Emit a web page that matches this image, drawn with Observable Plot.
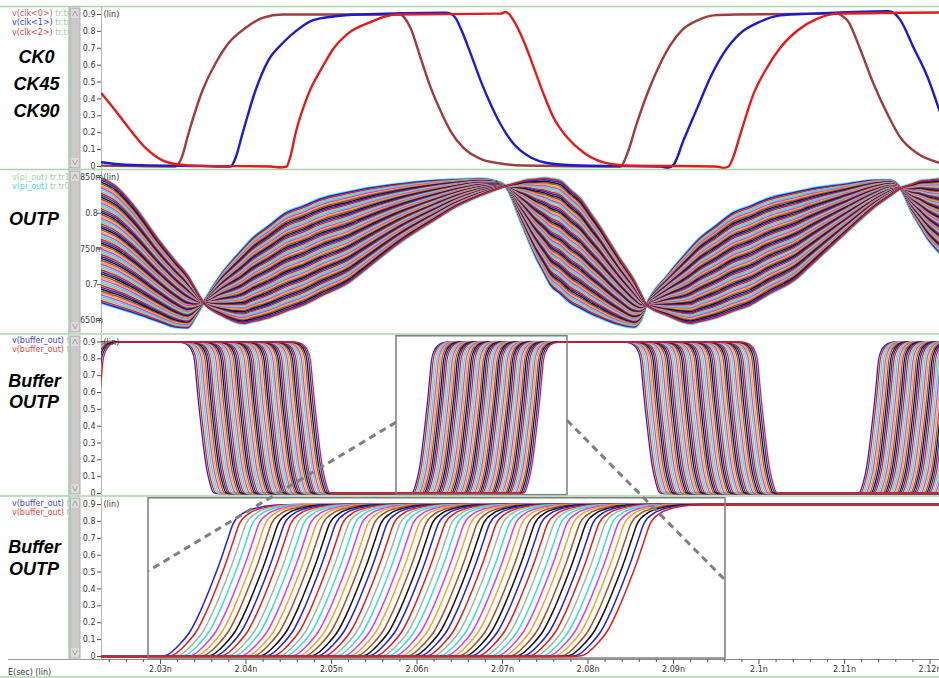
<!DOCTYPE html>
<html><head><meta charset="utf-8">
<script src="https://cdn.jsdelivr.net/npm/d3@7"></script>
<script src="https://cdn.jsdelivr.net/npm/@observablehq/plot@0.6"></script>
<style>
html,body{margin:0;padding:0;background:#fff;}
#root{position:relative;width:939px;height:678px;overflow:hidden;background:#fff;}
</style></head><body><div id="root"></div>
<script>
// ---------------- DATA (time in ps, voltage in V) ----------------
const timeTicks = [2030, 2040, 2050, 2060, 2070, 2080, 2090, 2100, 2110, 2120];
const timeTickLabels = ["2.03n","2.04n","2.05n","2.06n","2.07n","2.08n","2.09n","2.1n","2.11n","2.12n"];
const voltTicks = [0, 0.1, 0.2, 0.3, 0.4, 0.5, 0.6, 0.7, 0.8, 0.9];
const voltTickLabels = ["0","0.1","0.2","0.3","0.4","0.5","0.6","0.7","0.8","0.9"];
const piTicks = [0.65, 0.7, 0.75, 0.8, 0.85];
const piTickLabels = ["650m","0.7","750m","0.8","850m"];

// Panel 1: clocks
const clk0 = [[2023.10,0.005],[2031.75,0.0],[2032.46,0.05],[2033.27,0.195],[2034.91,0.45],[2036.43,0.61],[2037.95,0.73],[2039.94,0.82],[2041.93,0.88],[2044.27,0.9],[2058.07,0.9],[2058.54,0.88],[2059.24,0.82],[2060.41,0.645],[2061.58,0.47],[2062.75,0.33],[2063.92,0.21],[2065.44,0.11],[2067.43,0.045],[2069.77,0.018],[2072.46,0.006],[2083.80,0.0],[2084.62,0.08],[2085.67,0.25],[2087.08,0.45],[2088.36,0.6],[2089.65,0.72],[2091.05,0.81],[2092.81,0.865],[2094.68,0.895],[2097.25,0.9],[2109.18,0.905],[2109.77,0.89],[2110.35,0.865],[2111.87,0.69],[2113.39,0.49],[2115.03,0.31],[2116.55,0.17],[2118.54,0.077],[2121.11,0.022]];
const clk1 = [[2023.10,0.025],[2024.74,0.015],[2027.66,0.008],[2034.68,0.003],[2038.19,0.0],[2038.77,0.05],[2039.59,0.195],[2041.11,0.45],[2042.63,0.63],[2044.27,0.73],[2045.79,0.8],[2047.78,0.865],[2050.47,0.89],[2053.39,0.9],[2063.33,0.91],[2063.92,0.905],[2064.50,0.88],[2065.09,0.82],[2066.26,0.67],[2067.43,0.51],[2068.60,0.37],[2069.77,0.25],[2071.29,0.135],[2073.27,0.055],[2075.61,0.018],[2079.12,0.006],[2088.48,0.0],[2089.30,-0.008],[2090.00,0.01],[2091.17,0.155],[2092.81,0.35],[2094.33,0.53],[2095.85,0.67],[2097.84,0.79],[2099.82,0.85],[2102.51,0.895],[2106.02,0.905],[2115.15,0.92],[2115.73,0.91],[2116.55,0.865],[2118.07,0.705],[2119.71,0.53],[2121.11,0.33]];
const clk2 = [[2023.10,0.432],[2024.74,0.33],[2026.26,0.23],[2028.25,0.11],[2030.23,0.036],[2032.11,0.012],[2034.68,0.004],[2042.87,0.0],[2044.04,-0.006],[2044.74,0.0],[2045.20,0.06],[2045.79,0.195],[2047.31,0.43],[2048.95,0.59],[2050.12,0.69],[2051.99,0.79],[2054.33,0.85],[2057.49,0.9],[2069.77,0.905],[2070.35,0.915],[2070.82,0.9],[2071.29,0.865],[2072.46,0.745],[2073.63,0.59],[2074.80,0.43],[2075.96,0.29],[2077.60,0.17],[2079.47,0.083],[2081.81,0.024],[2084.15,0.006],[2094.91,0.0],[2095.85,-0.008],[2096.43,0.0],[2097.02,0.06],[2097.84,0.195],[2099.36,0.43],[2100.99,0.59],[2102.51,0.705],[2104.50,0.805],[2106.84,0.875],[2109.18,0.905],[2121.11,0.912]];

// Phase-interpolator code sweep (fraction of the code range for each trace)
const codeFrac = [0,0.015,0.031,0.046,0.062,0.077,0.092,0.108,0.123,0.138,0.154,0.169,0.185,0.2,0.215,0.231,0.246,0.262,0.277,0.292,0.308,0.323,0.338,0.354,0.369,0.385,0.4,0.415,0.431,0.446,0.462,0.477,0.492,0.508,0.523,0.538,0.554,0.569,0.585,0.6,0.615,0.631,0.646,0.662,0.677,0.692,0.708,0.723,0.738,0.754,0.769,0.785,0.8,0.815,0.831,0.846,0.862,0.877,0.892,0.908,0.923,0.938,0.954,0.969,0.985,1];
const codeColors = ["#2222d8","#e31e1e","#9cbc9c","#3cdcdc","#e03ce0","#f4a430","#a0522d","#111111"];

// Panel 2: pi_out, earliest and latest code traces
const outpTime = [2023.10,2024.74,2026.84,2030.00,2031.75,2033.16,2034.09,2035.03,2037.02,2039.71,2040.53,2042.87,2044.62,2046.73,2048.71,2052.22,2053.39,2058.07,2062.75,2063.92,2067.43,2069.18,2070.35,2072.11,2072.69,2073.86,2075.03,2075.61,2076.78,2077.95,2079.12,2080.29,2081.46,2082.28,2083.80,2085.44,2086.14,2086.84,2089.30,2091.99,2092.81,2095.15,2096.90,2099.01,2100.99,2104.50,2105.67,2110.35,2113.63,2115.38,2116.55,2117.95,2118.89,2119.71,2121.11];
const outpEarly = [.675,.669,.661,.648,.641,.640,.655,.675,.713,.751,.762,.784,.800,.810,.820,.830,.833,.841,.846,.8465,.848,.845,.838,.790,.773,.740,.713,.700,.6875,.675,.6675,.660,.654,.650,.644,.641,.650,.672,.713,.751,.762,.784,.800,.810,.820,.830,.833,.841,.846,.846,.835,.800,.781,.765,.745];
const outpLate = [.849,.838,.811,.759,.733,.713,.694,.675,.658,.646,.648,.655,.663,.672,.684,.705,.716,.760,.796,.805,.825,.833,.838,.844,.846,.8475,.849,.848,.845,.8325,.820,.800,.780,.764,.735,.705,.6885,.672,.657,.646,.648,.655,.663,.672,.686,.710,.723,.775,.810,.825,.835,.841,.845,.846,.848];

// Panel 3: buffer_out edges (50% crossing of first and last code)
const bufEdgeDir = ["rise","fall","rise","fall","rise"];
const bufEdgeFirst = [2009.3, 2034.56, 2061.11, 2086.73, 2113.39];
const bufEdgeLast = [2022.7, 2048.13, 2074.21, 2100.41, 2126.49];
const bufRiseShape = [[-1.94,0],[-1.63,0.006],[-1.14,0.077],[-0.81,0.154],[-0.49,0.27],[-0.17,0.41],[0.17,0.57],[0.39,0.69],[0.58,0.79],[0.92,0.85],[1.36,0.88],[1.89,0.895],[2.61,0.9]];

// Panel 4: zoomed rising edge
const zoomEdgeFirst = 2036.43, zoomEdgeLast = 2085.20;
const zoomRiseShape = [[-7,0],[-5.85,0.006],[-4.1,0.077],[-2.9,0.154],[-1.75,0.27],[-0.6,0.41],[0.6,0.57],[1.4,0.69],[2.1,0.79],[3.3,0.85],[4.9,0.88],[6.8,0.895],[9.4,0.9]];

// Zoom boxes and connectors
const zoomBoxTop = {t1: 2057.6, t2: 2077.6, v1: -0.01, v2: 0.934};
const zoomBoxBottom = {t1: 2028.6, t2: 2096.08, v1: -0.012, v2: 0.937};
const connectorLeft = {vTop: 0.42, vBottom: 0.503};
const connectorRight = {vTop: 0.432, vBottom: 0.45};

// ---------------- BUILD ----------------
const root = document.getElementById("root");
const W = 939;
const X_DOMAIN = [2023.1, 2121.11];
const SMALL = "DejaVu Sans, sans-serif";

const pts = arr => arr.map(([t, v]) => ({t, v}));
function edgePoints(t50, shape, dir) {
  return dir === "rise"
    ? shape.map(([dt, v]) => ({t: t50 + dt, v}))
    : shape.slice().reverse().map(([dt, v]) => ({t: t50 - dt, v}));
}
const outpCurves = codeFrac.map(f => outpTime.map((t, i) => ({t, v: (1 - f) * outpEarly[i] + f * outpLate[i]})));
const bufCurves = codeFrac.map(f => bufEdgeDir.flatMap((dir, e) =>
  edgePoints(bufEdgeFirst[e] + f * (bufEdgeLast[e] - bufEdgeFirst[e]), bufRiseShape, dir)));
const zoomCurves = codeFrac.map(f => {
  const t50 = zoomEdgeFirst + f * (zoomEdgeLast - zoomEdgeFirst);
  return [{t: X_DOMAIN[0], v: 0}, ...edgePoints(t50, zoomRiseShape, "rise"), {t: X_DOMAIN[1], v: 0.9}];
});
const family = (curves, sw) => curves.map((c, k) =>
  Plot.line(c, {x: "t", y: "v", stroke: codeColors[k % codeColors.length], strokeWidth: sw, curve: "monotone-x", clip: true}));

function makePanel({top, height, yDomain, ticks, labels, topTick, marks, marginBottom = 0, tickPadding = 2, textAnchor = "end", showX = false}) {
  const svg = Plot.plot({
    width: W, height,
    marginLeft: 101, marginRight: 0, marginTop: 0, marginBottom,
    x: showX ? {domain: X_DOMAIN} : {domain: X_DOMAIN, axis: null},
    y: {domain: yDomain},
    style: {fontFamily: SMALL, fontSize: "8px", color: "#3a3a3a", background: "transparent", overflow: "visible"},
    marks: [
      Plot.ruleX([X_DOMAIN[0]], {stroke: "#b8b8b8"}),
      Plot.axisY(ticks, {anchor: "left", tickSize: 4, tickPadding, textAnchor, label: null,
        tickFormat: d => labels[ticks.indexOf(d)] ?? "", fill: "#3a3a3a", stroke: "#555"}),
      ...marks,
      Plot.text([{t: X_DOMAIN[0], v: topTick, s: "(lin)"}], {x: "t", y: "v", text: "s", dx: 2, textAnchor: "start", fill: "#333", fontSize: 8})
    ]
  });
  svg.style.position = "absolute"; svg.style.left = "0px"; svg.style.top = top + "px";
  root.append(svg);
  return svg;
}

const p1 = makePanel({top: 7, height: 162, yDomain: [-0.01776, 0.94145], ticks: voltTicks, labels: voltTickLabels, topTick: 0.9,
  marks: [
    Plot.line(pts(clk0), {x: "t", y: "v", stroke: "#a03c3c", strokeWidth: 2.4, curve: "monotone-x", clip: true}),
    Plot.line(pts(clk1), {x: "t", y: "v", stroke: "#1b1bd3", strokeWidth: 2.4, curve: "monotone-x", clip: true}),
    Plot.line(pts(clk2), {x: "t", y: "v", stroke: "#e41b1b", strokeWidth: 2.4, curve: "monotone-x", clip: true})
  ]});

const p2 = makePanel({top: 170, height: 163, yDomain: [0.63182, 0.85979], ticks: piTicks, labels: piTickLabels, topTick: 0.85,
  tickPadding: 6, textAnchor: "middle",
  marks: [
    Plot.line(outpCurves[0], {x: "t", y: "v", stroke: "#5fe3ee", strokeWidth: 3.4, curve: "monotone-x", clip: true}),
    Plot.line(outpCurves[codeFrac.length - 1], {x: "t", y: "v", stroke: "#5fe3ee", strokeWidth: 3.4, curve: "monotone-x", clip: true}),
    ...family(outpCurves, 1.5)
  ]});

const p3 = makePanel({top: 335, height: 160, yDomain: [-0.01188, 0.93861], ticks: voltTicks, labels: voltTickLabels, topTick: 0.9,
  marks: [
    ...family(bufCurves, 1.3),
    Plot.rect([zoomBoxTop], {x1: "t1", x2: "t2", y1: "v1", y2: "v2", fill: "none", stroke: "#7c7c7c", strokeWidth: 1.5})
  ]});

const minorTicks = d3.range(2024, 2121, 2).filter(d => d % 10 !== 0);
const p4 = makePanel({top: 497, height: 181, marginBottom: 19, yDomain: [-0.01776, 0.94145], ticks: voltTicks, labels: voltTickLabels, topTick: 0.9,
  showX: true,
  marks: [
    ...family(zoomCurves, 1.5),
    Plot.rect([zoomBoxBottom], {x1: "t1", x2: "t2", y1: "v1", y2: "v2", fill: "none", stroke: "#7c7c7c", strokeWidth: 1.5}),
    Plot.ruleY([-0.01776], {stroke: "#8a8a8a", strokeWidth: 1.2}),
    Plot.axisX(minorTicks, {anchor: "bottom", tickSize: 3, tickFormat: () => "", label: null, stroke: "#555"}),
    Plot.axisX(timeTicks, {anchor: "bottom", tickSize: 5, tickPadding: 2, tickFormat: d => timeTickLabels[timeTicks.indexOf(d)], label: null, stroke: "#555", fill: "#333"})
  ]});

// ---------------- OVERLAY (frame decorations, labels, connectors) ----------------
const ov = d3.select(root).append("svg").attr("width", W).attr("height", 678)
  .style("position", "absolute").style("left", "0px").style("top", "0px").style("pointer-events", "none");

const panels = [{top: 7, bottom: 169}, {top: 170, bottom: 333}, {top: 335, bottom: 495}, {top: 497, bottom: 659}];

// legends
const legendClip = ov.append("clipPath").attr("id", "lgclip");
legendClip.append("rect").attr("x", 0).attr("y", 0).attr("width", 69).attr("height", 678);
const lg = ov.append("g").attr("clip-path", "url(#lgclip)").style("font-family", SMALL).style("font-size", "8px");
const legends = [
  {y: 15.5, parts: [["v(clk<0>)", "#c45a5a"], [" tr.tr", "#a9c9a9"]]},
  {y: 25, parts: [["v(clk<1>)", "#3b3be6"], [" tr.tr", "#a9c9a9"]]},
  {y: 34.5, parts: [["v(clk<2>)", "#e83a3a"], [" tr.tr", "#a9c9a9"]]},
  {y: 180, parts: [["v(pi_out)", "#a4d2a4"], [" tr.tr1", "#b4c8b4"]]},
  {y: 189, parts: [["v(pi_out)", "#3fdede"], [" tr.tr0", "#b4c8b4"]]},
  {y: 343, parts: [["v(buffer_out)", "#4646d6"], [" t", "#b4c8b4"]]},
  {y: 352, parts: [["v(buffer_out)", "#e54545"], [" t", "#b4c8b4"]]},
  {y: 506, parts: [["v(buffer_out)", "#4646d6"], [" t", "#b4c8b4"]]},
  {y: 515, parts: [["v(buffer_out)", "#e54545"], [" t", "#b4c8b4"]]}
];
legends.forEach(l => {
  const t = lg.append("text").attr("x", 12).attr("y", l.y);
  l.parts.forEach(([s, c]) => t.append("tspan").attr("fill", c).text(s));
});

// big labels
const big = ov.append("g").style("font-family", "Liberation Sans, Arial, sans-serif").style("font-size", "18px")
  .style("font-weight", "bold").style("font-style", "italic").attr("text-anchor", "middle").attr("fill", "#000");
[["CK0", 36.5, 63], ["CK45", 36.5, 90], ["CK90", 36.5, 117], ["OUTP", 34, 225],
 ["Buffer", 34.5, 387], ["OUTP", 34, 408], ["Buffer", 34.5, 553], ["OUTP", 34, 575]]
  .forEach(([s, x, y]) => big.append("text").attr("x", x).attr("y", y).text(s));

// green separators
const green = "#a8d4a8";
[6.5, 169.5, 334, 496, 677].forEach(y => ov.append("line").attr("x1", 0).attr("x2", W).attr("y1", y).attr("y2", y)
  .attr("stroke", green).attr("stroke-width", 1.5));
ov.append("line").attr("x1", 69).attr("x2", 69).attr("y1", 6).attr("y2", 660).attr("stroke", green).attr("stroke-width", 1.5);
ov.append("line").attr("x1", 8).attr("x2", 101).attr("y1", 659.5).attr("y2", 659.5).attr("stroke", "#9a9a9a").attr("stroke-width", 1);

// scrollbars
panels.forEach(p => {
  const g = ov.append("g");
  g.append("rect").attr("x", 70).attr("y", p.top + 1).attr("width", 10).attr("height", p.bottom - p.top - 2)
    .attr("fill", "#c9c9c9").attr("stroke", "#b0b0b0").attr("stroke-width", 1);
  g.append("rect").attr("x", 71).attr("y", p.top + 2).attr("width", 8).attr("height", 9).attr("fill", "#dcdcdc");
  g.append("rect").attr("x", 71).attr("y", p.bottom - 11).attr("width", 8).attr("height", 9).attr("fill", "#dcdcdc");
  g.append("path").attr("d", `M72.5,${p.top + 9}L75,${p.top + 4}L77.5,${p.top + 9}`).attr("fill", "none").attr("stroke", "#a0a0a0");
  g.append("path").attr("d", `M72.5,${p.bottom - 9}L75,${p.bottom - 4}L77.5,${p.bottom - 9}`).attr("fill", "none").attr("stroke", "#a0a0a0");
});

// time label
ov.append("text").attr("x", 8).attr("y", 675).style("font-family", SMALL).style("font-size", "8px").attr("fill", "#333").text("E(sec) (lin)");

// dashed connectors from the zoom box in panel 3 to the zoomed panel 4
const sx = p3.scale("x"), sy3 = p3.scale("y"), sy4 = p4.scale("y");
const conn = [
  [sx.apply(zoomBoxTop.t1), 335 + sy3.apply(connectorLeft.vTop), sx.apply(zoomBoxBottom.t1), 497 + sy4.apply(connectorLeft.vBottom)],
  [sx.apply(zoomBoxTop.t2), 335 + sy3.apply(connectorRight.vTop), sx.apply(zoomBoxBottom.t2), 497 + sy4.apply(connectorRight.vBottom)]
];
conn.forEach(([x1, y1, x2, y2]) => ov.append("line").attr("x1", x1).attr("y1", y1).attr("x2", x2).attr("y2", y2)
  .attr("stroke", "#7f7f7f").attr("stroke-width", 3).attr("stroke-dasharray", "7,5"));
</script></body></html>
